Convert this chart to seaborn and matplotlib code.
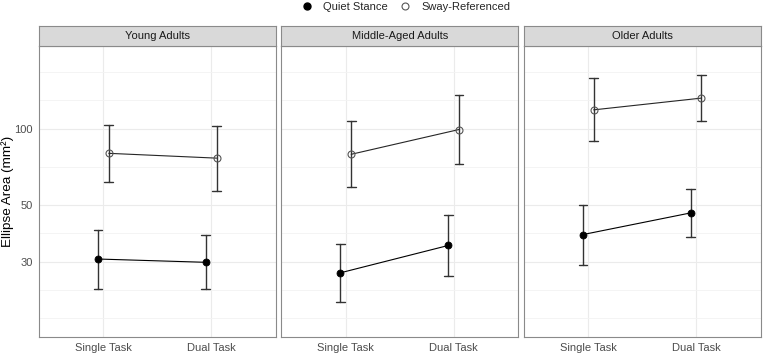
import numpy as np
import pandas as pd
import matplotlib
matplotlib.use('Agg')
import matplotlib.pyplot as plt
from matplotlib.lines import Line2D
from matplotlib.ticker import FixedLocator, FuncFormatter, NullFormatter
import seaborn as sns

groups = ['Young Adults', 'Middle-Aged Adults', 'Older Adults']
tasks = ['Single Task', 'Dual Task']
conditions = ['Quiet Stance', 'Sway-Referenced']

# ellipse area (mm²), order: young single, young dual, middle single, middle dual, older single, older dual
quiet_mean = [30.7, 29.8, 27.1, 34.7, 38.3, 46.6]
quiet_lower = [23.5, 23.4, 20.9, 26.3, 29.2, 37.6]
quiet_upper = [40.0, 38.1, 35.1, 45.6, 49.9, 57.8]
sway_mean = [79.9, 76.5, 79.2, 99.1, 118.4, 131.7]
sway_lower = [61.9, 57.0, 59.0, 72.3, 89.1, 107.5]
sway_upper = [103.0, 102.4, 106.6, 135.0, 157.6, 162.0]

y_breaks = [30, 50, 100]

# long table: lower / mean / upper per cell, so median = mean and 100% interval = bar ends
rows = []
for cond, m, lo, hi in [(conditions[0], quiet_mean, quiet_lower, quiet_upper),
                        (conditions[1], sway_mean, sway_lower, sway_upper)]:
    for i in range(len(m)):
        for v in (lo[i], m[i], hi[i]):
            rows.append({'group': groups[i // 2], 'task': tasks[i % 2],
                         'condition': cond, 'area': v})
df = pd.DataFrame(rows)

sns.set_style('white')
plt.rcParams['font.family'] = ['Liberation Sans', 'DejaVu Sans']

# ggplot-like minor breaks: midpoints in log space, extended by the first break gap
lb = np.log10(y_breaks)
bd = lb[1] - lb[0]
ext = np.concatenate([[lb[0] - bd], lb, [lb[-1] + bd]])
minor = 10 ** np.concatenate([ext[:1], (ext[:-1] + ext[1:]) / 2, ext[-1:]])

fig, axes = plt.subplots(1, 3, figsize=(7.63, 3.53), dpi=100, sharey=True)
fig.subplots_adjust(left=38.7 / 763, right=760.7 / 763, bottom=1 - 336.7 / 353,
                    top=1 - 45.5 / 353, wspace=0.0225)

for ax, g in zip(axes, groups):
    ax.set_yscale('log')
    sub = df[df['group'] == g]
    sns.pointplot(data=sub, x='task', y='area', hue='condition', order=tasks,
                  hue_order=conditions, estimator='median', errorbar=('pi', 100),
                  dodge=0.1, capsize=0.08, palette=['black', '#262626'],
                  markers=['o', 'o'], markersize=5, linewidth=0.8,
                  err_kws={'color': '#333333', 'linewidth': 1.0}, legend=False, ax=ax)
    pts = [l for l in ax.lines if l.get_marker() == 'o']
    for l in pts:
        l.set_zorder(4)
    pts[1].set_markerfacecolor('none')
    pts[1].set_markeredgecolor('#555555')
    pts[1].set_markeredgewidth(0.8)

    ax.set_xlim(-0.6, 1.6)
    ax.set_ylim(15.2, 212)
    ax.set_xlabel('')
    ax.set_ylabel('')
    ax.yaxis.set_major_locator(FixedLocator(y_breaks))
    ax.yaxis.set_major_formatter(FuncFormatter(lambda v, p: f'{v:g}'))
    ax.yaxis.set_minor_locator(FixedLocator(minor))
    ax.yaxis.set_minor_formatter(NullFormatter())
    ax.grid(True, which='major', color='#EBEBEB', linewidth=0.8)
    ax.grid(True, which='minor', axis='y', color='#F3F3F3', linewidth=0.6)
    ax.set_axisbelow(True)
    ax.tick_params(which='minor', length=0)
    ax.tick_params(which='major', length=3, width=0.7, color='#555555',
                   labelsize=8, labelcolor='#4D4D4D', pad=1.5)
    for s in ax.spines.values():
        s.set_visible(True)
        s.set_color('#8A8A8A')
        s.set_linewidth(0.8)

    strip = ax.inset_axes([0, 1, 1, 19.5 / 291.2])
    strip.set_facecolor('#D9D9D9')
    strip.set_xticks([])
    strip.set_yticks([])
    for s in strip.spines.values():
        s.set_color('#8A8A8A')
        s.set_linewidth(0.8)
    strip.text(0.5, 0.5, g, ha='center', va='center', fontsize=8, color='#1A1A1A',
               transform=strip.transAxes)

for ax in axes[1:]:
    ax.tick_params(axis='y', which='both', left=False, labelleft=False)

fig.text(0.0105, 1 - 191 / 353, 'Ellipse Area (mm²)', rotation=90, ha='center',
         va='center', fontsize=9.7, color='black')

handles = [Line2D([], [], linestyle='none', marker='o', markersize=5,
                  markerfacecolor='black', markeredgecolor='black'),
           Line2D([], [], linestyle='none', marker='o', markersize=5,
                  markerfacecolor='none', markeredgecolor='#555555', markeredgewidth=0.8)]
fig.legend(handles, conditions, loc='center', bbox_to_anchor=(0.532, 1 - 6.5 / 353),
           ncol=2, frameon=False, fontsize=8, handlelength=1.0, handletextpad=1.0,
           columnspacing=1.0, borderpad=0, borderaxespad=0)

fig.savefig('out.png', dpi=100)
